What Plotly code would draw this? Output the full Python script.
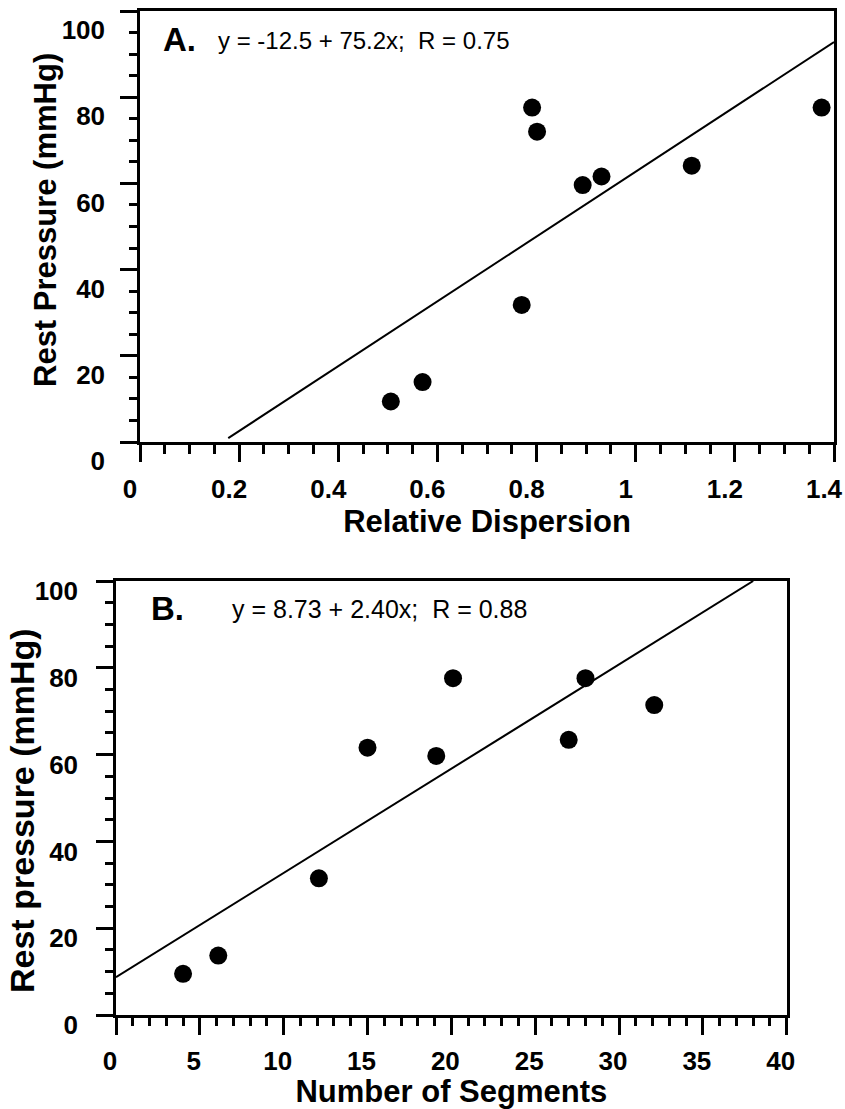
import plotly.graph_objects as go

# ---- Panel A data ----
disp_x = [0.506, 0.570, 0.770, 0.791, 0.801, 0.893, 0.931, 1.113, 1.375]
disp_y = [9.4, 13.9, 31.8, 77.6, 72.0, 59.6, 61.6, 64.1, 77.6]
fitA_x = [0.178, 1.40]
fitA_y = [0.9, 92.8]

# ---- Panel B data ----
seg_x = [4.0, 6.1, 12.1, 15.0, 19.1, 20.1, 27.0, 28.0, 32.1]
seg_y = [9.5, 13.7, 31.5, 61.6, 59.7, 77.6, 63.4, 77.6, 71.4]
fitB_x = [0.0, 38.0]
fitB_y = [8.7, 100.0]

W, H = 845, 1109
FONT = "Liberation Sans"

def px(x):
    return x / W

def py(y):
    return 1 - y / H

fig = go.Figure()
fig.add_trace(go.Scatter(x=fitA_x, y=fitA_y, mode="lines", line=dict(color="black", width=2),
                         xaxis="x", yaxis="y", showlegend=False, hoverinfo="skip"))
fig.add_trace(go.Scatter(x=disp_x, y=disp_y, mode="markers", marker=dict(color="black", size=18),
                         xaxis="x", yaxis="y", showlegend=False))
fig.add_trace(go.Scatter(x=fitB_x, y=fitB_y, mode="lines", line=dict(color="black", width=2),
                         xaxis="x2", yaxis="y2", showlegend=False, hoverinfo="skip"))
fig.add_trace(go.Scatter(x=seg_x, y=seg_y, mode="markers", marker=dict(color="black", size=18),
                         xaxis="x2", yaxis="y2", showlegend=False))

tick_font_A = dict(family=FONT, size=26, color="black", weight="bold")
tick_font_B = dict(family=FONT, size=26, color="black", weight="bold")
title_font = dict(family=FONT, size=31, color="black", weight="bold")

common = dict(showline=True, linecolor="black", linewidth=2.5, mirror=True,
              ticks="outside", ticklen=17, tickwidth=2.5, tickcolor="black",
              showgrid=False, zeroline=False, automargin=False, ticklabeloverflow="allow")

fig.update_layout(
    width=W, height=H,
    margin=dict(l=0, r=0, t=0, b=0, autoexpand=False),
    paper_bgcolor="white", plot_bgcolor="white",
    xaxis=dict(domain=[px(140), px(834)], anchor="y", range=[0, 1.4],
               tickvals=[0, 0.2, 0.4, 0.6, 0.8, 1.0, 1.2, 1.4],
               ticktext=["0", "0.2", "0.4", "0.6", "0.8", "1", "1.2", "1.4"],
               minor=dict(dtick=0.05, ticks="outside", ticklen=9, tickwidth=2.5, tickcolor="black", showgrid=False),
               tickfont=tick_font_A, ticklabelshift=-10, ticklabelstandoff=5,
               title=dict(text="Relative Dispersion", font=title_font, standoff=4),
               **common),
    yaxis=dict(domain=[py(442), py(11)], anchor="x", range=[0, 100],
               tickvals=[0, 20, 40, 60, 80, 100],
               minor=dict(dtick=5, ticks="outside", ticklen=8, tickwidth=2.5, tickcolor="black", showgrid=False),
               tickfont=tick_font_A, ticklabelshift=19, ticklabelstandoff=10,
               **common),
    xaxis2=dict(domain=[px(116), px(786.7)], anchor="y2", range=[0, 40],
                tickvals=[0, 5, 10, 15, 20, 25, 30, 35, 40],
                minor=dict(dtick=1, ticks="outside", ticklen=8, tickwidth=2.5, tickcolor="black", showgrid=False),
                tickfont=tick_font_B, ticklabelshift=-6, ticklabelstandoff=4,
                title=dict(text="Number of Segments", font=title_font, standoff=11),
                **common),
    yaxis2=dict(domain=[py(1015), py(581)], anchor="x2", range=[0, 100],
                tickvals=[0, 20, 40, 60, 80, 100],
                minor=dict(dtick=5, ticks="outside", ticklen=8, tickwidth=2.5, tickcolor="black", showgrid=False),
                tickfont=tick_font_B, ticklabelshift=10, ticklabelstandoff=13,
                **common),
    annotations=[
        dict(text="Rest Pressure (mmHg)", x=px(46), y=py(220), xref="paper", yref="paper",
             xanchor="center", yanchor="middle", textangle=-90, showarrow=False, font=title_font),
        dict(text="Rest pressure (mmHg)", x=px(22), y=py(811), xref="paper", yref="paper",
             xanchor="center", yanchor="middle", textangle=-90, showarrow=False,
             font=dict(family=FONT, size=34, color="black", weight="bold")),
        dict(text="A.", x=px(161), y=py(39), xref="paper", yref="paper", xanchor="left", yanchor="middle",
             showarrow=False, font=dict(family=FONT, size=33, color="black", weight="bold")),
        dict(text="y = -12.5 + 75.2x;  R = 0.75", x=px(216), y=py(40), xref="paper", yref="paper",
             xanchor="left", yanchor="middle", showarrow=False, font=dict(family=FONT, size=24, color="black")),
        dict(text="B.", x=px(149), y=py(608), xref="paper", yref="paper", xanchor="left", yanchor="middle",
             showarrow=False, font=dict(family=FONT, size=33, color="black", weight="bold")),
        dict(text="y = 8.73 + 2.40x;  R = 0.88", x=px(230), y=py(609), xref="paper", yref="paper",
             xanchor="left", yanchor="middle", showarrow=False, font=dict(family=FONT, size=25, color="black")),
    ],
)

fig.write_html("out.html")
